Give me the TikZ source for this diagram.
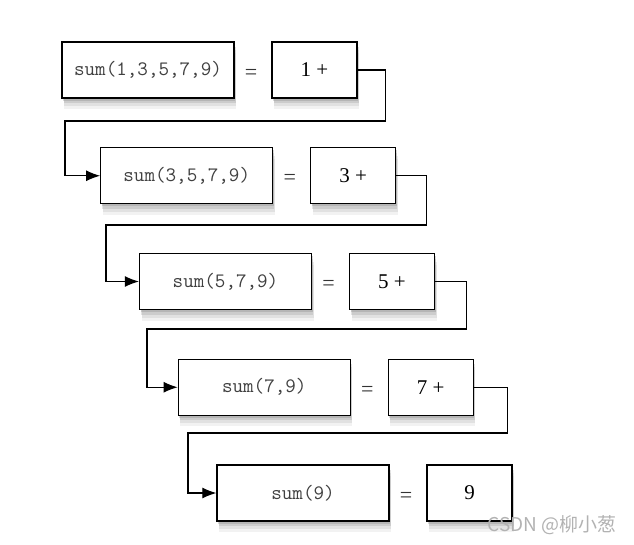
\documentclass[tikz,border=0pt]{standalone}
\usepackage{fontspec}
\setmainfont{Liberation Serif}
\newfontfamily\cjkfont{Noto Sans CJK SC}
\usetikzlibrary{arrows.meta,shadows}

\tikzset{
  softshadow/.style={
    drop shadow={shadow xshift=2pt,shadow yshift=-11pt,opacity=0.1},
    drop shadow={shadow xshift=2pt,shadow yshift=-8pt,opacity=0.15},
    drop shadow={shadow xshift=1.5pt,shadow yshift=-5pt,opacity=0.22},
    drop shadow={shadow xshift=1pt,shadow yshift=-2.5pt,opacity=0.3}},
  callbox/.style={draw,line width=1.3pt,fill=white,minimum height=56pt,
    inner sep=0pt,softshadow},
  sumbox/.style={callbox,minimum width=172pt,
    font=\ttfamily\fontsize{20.5}{20.5}\selectfont,text=black!75},
  valbox/.style={callbox,minimum width=85pt,font=\fontsize{21}{21}\selectfont},
  eqsign/.style={font=\fontsize{22}{22}\selectfont,text=black!80},
  link/.style={line width=1.1pt,-{Latex[length=14pt,width=11pt]}}
}

\begin{document}
\begin{tikzpicture}[x=1pt,y=-1pt]
      \useasboundingbox (0,0) rectangle (634,544);

      % calls, one row per step
      \node[sumbox] (s1) at (148,70) {sum(1,3,5,7,9)};
      \node[eqsign] (e1) at (251,74) {=};
      \node[valbox] (v1) at (314.5,70) {1 +};

      \node[sumbox] (s2) at (186.75,175.75) {sum(3,5,7,9)};
      \node[eqsign] (e2) at (289.75,179.75) {=};
      \node[valbox] (v2) at (353.25,175.75) {3 +};

      \node[sumbox] (s3) at (225.5,281.5) {sum(5,7,9)};
      \node[eqsign] (e3) at (328.5,285.5) {=};
      \node[valbox] (v3) at (392,281.5) {5 +};

      \node[sumbox] (s4) at (264.25,387.25) {sum(7,9)};
      \node[eqsign] (e4) at (367.25,391.25) {=};
      \node[valbox] (v4) at (430.75,387.25) {7 +};

      \node[sumbox] (s5) at (303,493) {sum(9)};
      \node[eqsign] (e5) at (406,497) {=};
      \node[valbox] (v5) at (469.5,493) {9};

      % bends of the connectors
      \coordinate (k1) at (65,121);
      \coordinate (k2) at (106,225);
      \coordinate (k3) at (147,329);
      \coordinate (k4) at (188,433);

      \draw[link] (v1.east) -- ++(28,0) |- (k1) |- (s2.west);
      \draw[link] (v2.east) -- ++(30,0) |- (k2) |- (s3.west);
      \draw[link] (v3.east) -- ++(31,0) |- (k3) |- (s4.west);
      \draw[link] (v4.east) -- ++(34,0) |- (k4) |- (s5.west);

      \node[text=black!30,font=\cjkfont\fontsize{19}{19}\selectfont] (mark)
        at (552,525) {CSDN @柳小葱};
\end{tikzpicture}
\end{document}
